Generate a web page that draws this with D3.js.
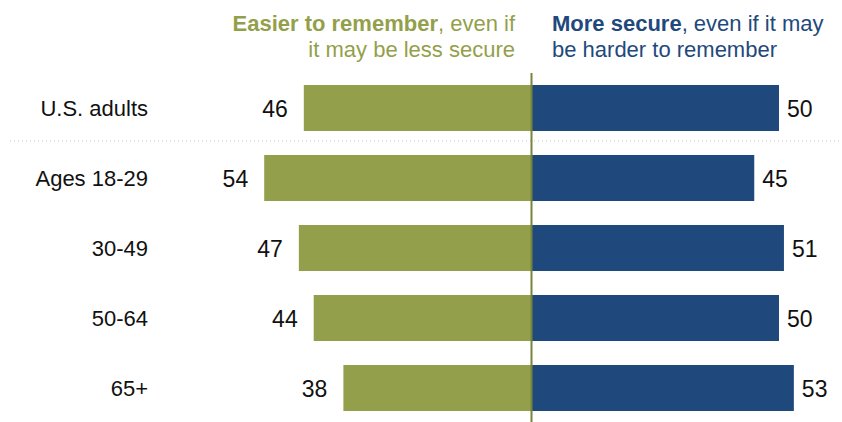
<!DOCTYPE html>
<html>
<head>
<meta charset="utf-8">
<script src="https://cdn.jsdelivr.net/npm/d3@7"></script>
<style>
html,body{margin:0;padding:0;background:#fff;}
svg{display:block;font-family:"Liberation Sans",Arial,sans-serif;}
</style>
</head>
<body>
<svg id="chart" width="842" height="422"></svg>
<script>
const categories = ["U.S. adults", "Ages 18-29", "30-49", "50-64", "65+"];
const easier = [46, 54, 47, 44, 38];
const secure = [50, 45, 51, 50, 53];
const headerLeft = [["Easier to remember", ", even if"], ["", "it may be less secure"]];
const headerRight = [["More secure", ", even if it may"], ["", "be harder to remember"]];

const green = "#939F4A", blue = "#1F497C", lineCol = "#76843A";
const svg = d3.select("#chart");
const cx = 531.5, k = 4.95;
const x = d3.scaleLinear().domain([-60, 60]).range([cx - 60 * k, cx + 60 * k]);
const y = d3.scaleBand().domain(categories).range([73, 423]).paddingInner(24 / 70).paddingOuter(12 / 70);

// dotted separator
const sepY = y(categories[0]) + y.bandwidth() + 10;
svg.append("line").attr("x1", 10).attr("x2", 842).attr("y1", sepY).attr("y2", sepY)
  .attr("stroke", "#c4c4c4").attr("stroke-width", 1).attr("stroke-dasharray", "1,3");

const rows = categories.map((c, i) => ({c, e: easier[i], s: secure[i]}));

svg.selectAll("rect.e").data(rows).join("rect").attr("class", "e")
  .attr("x", d => x(-d.e)).attr("width", d => x(0) - x(-d.e))
  .attr("y", d => y(d.c)).attr("height", y.bandwidth()).attr("fill", green);
svg.selectAll("rect.s").data(rows).join("rect").attr("class", "s")
  .attr("x", x(0)).attr("width", d => x(d.s) - x(0))
  .attr("y", d => y(d.c)).attr("height", y.bandwidth()).attr("fill", blue);

// center line
svg.append("line").attr("x1", x(0)).attr("x2", x(0)).attr("y1", 73).attr("y2", 422)
  .attr("stroke", lineCol).attr("stroke-width", 2);

// category labels
svg.selectAll("text.cat").data(rows).join("text").attr("class", "cat")
  .attr("x", 148).attr("y", d => y(d.c) + y.bandwidth() / 2 + 8)
  .attr("text-anchor", "end").attr("font-size", 22).attr("fill", "#111").text(d => d.c);

// value labels
svg.selectAll("text.ev").data(rows).join("text").attr("class", "ev")
  .attr("x", d => x(-d.e) - 16).attr("y", d => y(d.c) + y.bandwidth() / 2 + 9)
  .attr("text-anchor", "end").attr("font-size", 23).attr("fill", "#111").text(d => d.e);
svg.selectAll("text.sv").data(rows).join("text").attr("class", "sv")
  .attr("x", d => x(d.s) + 8).attr("y", d => y(d.c) + y.bandwidth() / 2 + 9)
  .attr("text-anchor", "start").attr("font-size", 23).attr("fill", "#111").text(d => d.s);

// headers
function header(lines, xp, anchor, col) {
  lines.forEach((ln, i) => {
    const t = svg.append("text").attr("x", xp).attr("y", 31 + i * 26)
      .attr("text-anchor", anchor).attr("font-size", 22).attr("fill", col);
    if (ln[0]) t.append("tspan").attr("font-weight", "bold").text(ln[0]);
    t.append("tspan").text(ln[1]);
  });
}
header(headerLeft, 515, "end", green);
header(headerRight, 552, "start", blue);
</script>
</body>
</html>
